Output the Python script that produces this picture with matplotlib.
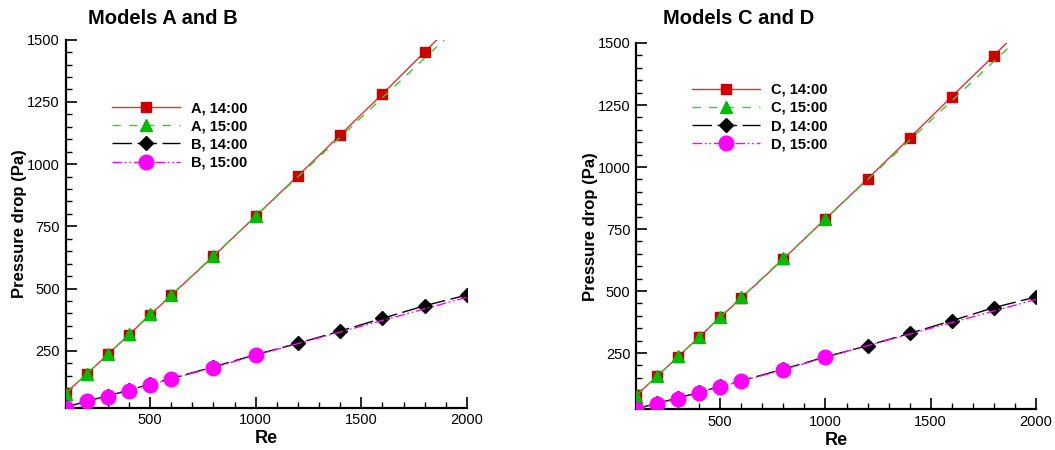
import matplotlib
matplotlib.use("Agg")
import matplotlib.pyplot as plt
from matplotlib.ticker import MultipleLocator

plt.rcParams['font.family'] = ['Liberation Sans', 'DejaVu Sans']

# ---- data ----
re_full = [100, 200, 300, 400, 500, 600, 800, 1000, 1200, 1400, 1600, 1800, 2000]
re_short = [100, 200, 300, 400, 500, 600, 800, 1000, 2000]

a_14 = [79, 156, 235, 314, 394, 472, 629, 791, 953, 1117, 1282, 1451, 1620]
a_15 = [78, 157, 236, 316, 396, 474, 632, 790, 1585]
b_14 = [22, 48, 68, 92, 115, 138, 185, 234, 280, 329, 380, 431, 474]
b_15 = [20, 46, 65, 90, 113, 137, 182, 232, 465]

c_14 = [79, 156, 235, 314, 394, 472, 629, 791, 952, 1117, 1284, 1449, 1618]
c_15 = [78, 157, 236, 316, 396, 474, 632, 790, 1585]
d_14 = [24, 48, 68, 92, 115, 138, 185, 234, 280, 329, 380, 433, 476]
d_15 = [23, 46, 65, 90, 113, 137, 182, 233, 466]

labels_ab = ["A, 14:00", "A, 15:00", "B, 14:00", "B, 15:00"]
labels_cd = ["C, 14:00", "C, 15:00", "D, 14:00", "D, 15:00"]

W, H = 1055, 450
fig = plt.figure(figsize=(W / 100, H / 100), dpi=100)


def fx(px):
    return px / W


def fy(py):
    return 1 - py / H


def make_axes(x0, x1, ytop, ybot):
    return fig.add_axes([fx(x0), fy(ybot), fx(x1) - fx(x0), fy(ytop) - fy(ybot)])


def draw(ax, s14a, s15a, s14b, s15b, labels, ymin, leg_xy, title, title_xy):
    red_line = '#E03030'
    h1, = ax.plot(re_full, s14a, color=red_line, lw=1.0, ls='-', marker='s',
                  ms=7.2, mfc='#CC0000', mec='#CC0000', label=labels[0], zorder=3)
    h2, = ax.plot(re_short, s15a, color='#33CC33', lw=1.0, ls=(0, (6, 6)),
                  marker='^', ms=8.5, mfc='#00BB00', mec='#00BB00',
                  markevery=list(range(len(re_short) - 1)), label=labels[1], zorder=4)
    h3, = ax.plot(re_full, s14b, color='black', lw=1.0, ls=(0, (14, 4)),
                  marker='D', ms=7, mfc='black', mec='black', label=labels[2], zorder=5)
    h4, = ax.plot(re_short, s15b, color='#FF00FF', lw=1.0, ls=(0, (7, 2, 1.2, 2, 1.2, 2)),
                  marker='o', ms=10.5, mfc='#FF00FF', mec='#FF00FF',
                  markevery=list(range(len(re_short) - 1)), label=labels[3], zorder=6)

    ax.set_xlim(100, 2000)
    ax.set_ylim(ymin, 1500)
    ax.xaxis.set_major_locator(MultipleLocator(500))
    ax.xaxis.set_minor_locator(MultipleLocator(100))
    ax.yaxis.set_major_locator(MultipleLocator(250))
    ax.yaxis.set_minor_locator(MultipleLocator(50))
    ax.tick_params(which='major', direction='in', length=8, width=1.2,
                   labelsize=10.5, pad=4)
    ax.tick_params(which='minor', direction='in', length=4.5, width=1.0)
    ax.tick_params(top=False, right=False)
    for side in ('top', 'right'):
        ax.spines[side].set_visible(False)
    for side in ('left', 'bottom'):
        ax.spines[side].set_linewidth(1.6)
    ax.set_xlabel('Re', fontsize=13, fontweight='bold', labelpad=2)
    ax.set_ylabel('Pressure drop (Pa)', fontsize=12, fontweight='bold', labelpad=0)

    ax.legend(handles=[h1, h2, h3, h4], loc='center left',
              bbox_to_anchor=(fx(leg_xy[0]), fy(leg_xy[1])),
              bbox_transform=fig.transFigure, frameon=False,
              prop={'weight': 'bold', 'size': 10.5},
              handlelength=4.7, handletextpad=0.75, labelspacing=0.28,
              borderpad=0, borderaxespad=0, numpoints=1)
    fig.text(fx(title_xy[0]), fy(title_xy[1]), title, ha='center', va='center',
             fontsize=14.5, fontweight='bold')


ax1 = make_axes(65.5, 467, 39.7, 407.7)
draw(ax1, a_14, a_15, b_14, b_15, labels_ab, 21, (111.7, 135.5), 'Models A and B', (162.5, 19))

ax2 = make_axes(636, 1036, 43, 409.3)
draw(ax2, c_14, c_15, d_14, d_15, labels_cd, 23, (691.7, 117), 'Models C and D', (739, 19))

fig.savefig('out.png', dpi=100)
